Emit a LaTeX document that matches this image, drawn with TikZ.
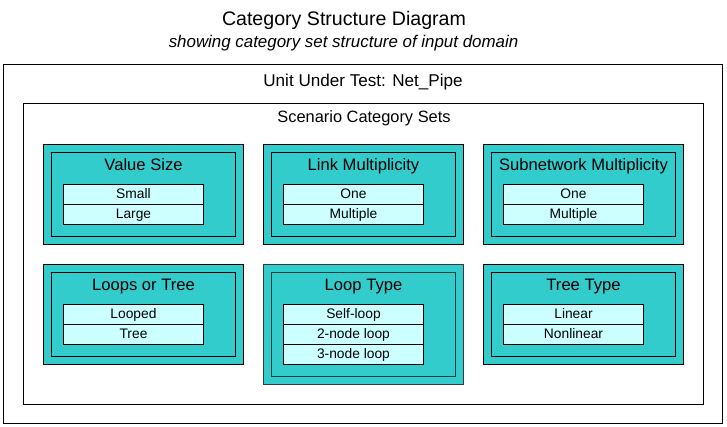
\documentclass[tikz,border=0pt]{standalone}
\usepackage{fontspec}
\setmainfont{Liberation Sans}
\definecolor{tealbox}{HTML}{33CCCC}
\definecolor{cellcol}{HTML}{CCFFFF}
\definecolor{dimedge}{HTML}{3A3A3A}
\definecolor{darkteal}{HTML}{144040}
\begin{document}
\begin{tikzpicture}[x=1pt,y=-1pt,
  framebox/.style={draw=black, line width=1pt, anchor=north west, inner sep=0pt, outer sep=0pt},
  catbox/.style={draw=black, fill=tealbox, line width=1pt, minimum width=200pt, anchor=north west, inner sep=0pt, outer sep=0pt},
  catframe/.style={draw=black, line width=1pt, minimum width=184pt, anchor=north west, inner sep=0pt, outer sep=0pt},
  cellbox/.style={draw=black, fill=cellcol, line width=1pt, minimum width=140pt, minimum height=20pt, anchor=north west, inner sep=0pt, outer sep=0pt, text height=10.5pt, text depth=2.5pt, font=\fontsize{13.8}{16}\selectfont},
  cattitle/.style={anchor=base, inner sep=0pt, font=\fontsize{16.6}{19}\selectfont},
  headtext/.style={anchor=base, inner sep=0pt}
]
\useasboundingbox (0,0) rectangle (727,427);

\node[headtext, font=\fontsize{19.6}{23}\selectfont] (title) at (344,25.5) {Category Structure Diagram};
\node[headtext, font=\fontsize{16.9}{20}\itshape\selectfont] (subtitle) at (343.5,48) {showing category set structure of input domain};

\node[framebox, minimum width=719pt, minimum height=359pt] (uut) at (3.5,64.5) {};
\node[headtext, font=\fontsize{17.1}{20}\selectfont] (uutt) at (363,86.5) {Unit Under Test: Net\_Pipe};

\node[framebox, minimum width=680pt, minimum height=300.5pt] (scs) at (23.5,103.5) {};
\node[headtext, font=\fontsize{16.4}{19}\selectfont] (scst) at (364,123) {Scenario Category Sets};

% category set boxes
\foreach \n/\x/\y/\h/\t in {vs/43.5/144.5/100/Value Size,
                             lm/263.5/144.5/100/Link Multiplicity,
                             sm/483.5/144.5/100/Subnetwork Multiplicity,
                             lt/43.5/264.5/100/Loops or Tree,
                             tt/483.5/264.5/100/Tree Type}{
  \node[catbox, minimum height=\h pt] (\n) at (\x,\y) {};
  \node[catframe, minimum height=\h pt-16pt] (\n f) at (\x+8,\y+8) {};
  \node[cattitle] (\n t) at (\x+100,\y+26) {\t};
}
\node[catbox, draw=dimedge, minimum height=120pt] (ly) at (263.5,264.5) {};
\node[catframe, draw=darkteal, minimum height=104pt] (lyf) at (271.5,272.5) {};
\node[cattitle] (lyt) at (363.5,290.5) {Loop Type};

% category items
\node[cellbox] (vs1) at (63.5,184.5) {Small};
\node[cellbox] (vs2) at (63.5,204.5) {Large};
\node[cellbox] (lm1) at (283.5,184.5) {One};
\node[cellbox] (lm2) at (283.5,204.5) {Multiple};
\node[cellbox] (sm1) at (503.5,184.5) {One};
\node[cellbox] (sm2) at (503.5,204.5) {Multiple};
\node[cellbox] (lt1) at (63.5,304.5) {Looped};
\node[cellbox] (lt2) at (63.5,324.5) {Tree};
\node[cellbox] (ly1) at (283.5,304.5) {Self-loop};
\node[cellbox] (ly2) at (283.5,324.5) {2-node loop};
\node[cellbox] (ly3) at (283.5,344.5) {3-node loop};
\node[cellbox] (tt1) at (503.5,304.5) {Linear};
\node[cellbox] (tt2) at (503.5,324.5) {Nonlinear};
\end{tikzpicture}
\end{document}
